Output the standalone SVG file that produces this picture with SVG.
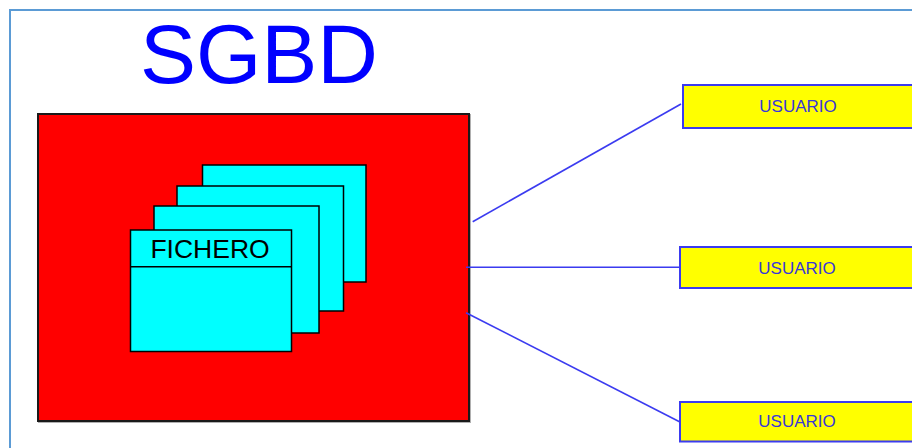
<svg xmlns="http://www.w3.org/2000/svg" width="912" height="448" viewBox="0 0 912 448">
<style>
.card{fill:#00ffff;stroke:#000;stroke-width:1.5}
.user rect{fill:#ffff00;stroke:#3b3bf0;stroke-width:2}
.user text{font-family:"Liberation Sans",Arial,sans-serif;font-size:17px;fill:#3838d8;text-anchor:middle}
.conn line{stroke:#3b3bf0;stroke-width:1.6}
</style>
<rect width="912" height="448" fill="#fff"/>
<rect x="10" y="10" width="1000" height="1000" fill="none" stroke="#5b9bd5" stroke-width="2"/>
<text x="259" y="82.5" font-family="Liberation Sans,Arial,sans-serif" font-size="84" fill="#0000ff" text-anchor="middle">SGBD</text>
<g id="sgbd">
<rect x="39" y="115" width="431" height="307" fill="none" stroke="#b0b0b0" stroke-width="2"/>
<rect x="38" y="114" width="431" height="307" fill="#ff0000" stroke="#1a1a1a" stroke-width="2"/>
</g>
<g id="fichero4"><rect class="card" x="202.5" y="165" width="163.5" height="117"/></g>
<g id="fichero3"><rect class="card" x="177" y="186" width="166.5" height="125"/></g>
<g id="fichero2"><rect class="card" x="154" y="206" width="165" height="127"/></g>
<g id="fichero1">
<rect class="card" x="130.5" y="230" width="161" height="121.5"/>
<line x1="130.5" y1="266.7" x2="291.5" y2="266.7" stroke="#000" stroke-width="1.5"/>
<text x="210" y="258" font-family="Liberation Sans,Arial,sans-serif" font-size="26.5" fill="#000" text-anchor="middle">FICHERO</text>
</g>
<g id="connectors" class="conn">
<line x1="472.7" y1="221.7" x2="681" y2="104"/>
<line x1="466" y1="267.3" x2="679.5" y2="267.3"/>
<line x1="466" y1="312.7" x2="679.5" y2="421.7"/>
</g>
<g id="usuario1" class="user">
<rect x="683" y="85" width="260" height="43"/>
<text x="798" y="111.5">USUARIO</text>
</g>
<g id="usuario2" class="user">
<rect x="680" y="247" width="260" height="41"/>
<text x="797" y="273.5">USUARIO</text>
</g>
<g id="usuario3" class="user">
<rect x="680" y="402" width="260" height="39.5"/>
<text x="797" y="427">USUARIO</text>
</g>
</svg>
